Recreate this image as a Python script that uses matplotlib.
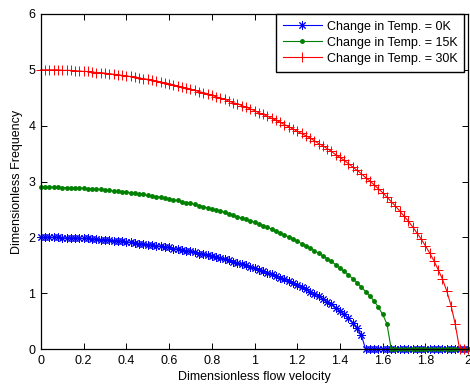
import numpy as np
import matplotlib
matplotlib.use("Agg")
import matplotlib.pyplot as plt

plt.rcParams['font.family'] = ['Liberation Sans', 'DejaVu Sans']

# flow velocity grid (0 to 2, step 0.02)
velocity = np.linspace(0, 2, 101)

# dimensionless frequency for each temperature change
freq_0K = [
    2.00, 2.00, 2.00, 2.00, 2.00, 1.99, 1.99, 1.99, 1.99, 1.98,
    1.98, 1.98, 1.97, 1.97, 1.96, 1.96, 1.95, 1.94, 1.94, 1.93,
    1.92, 1.91, 1.90, 1.89, 1.88, 1.87, 1.86, 1.85, 1.84, 1.83,
    1.82, 1.80, 1.79, 1.78, 1.76, 1.75, 1.73, 1.71, 1.70, 1.68,
    1.66, 1.64, 1.63, 1.61, 1.59, 1.56, 1.54, 1.52, 1.50, 1.47,
    1.45, 1.42, 1.40, 1.37, 1.34, 1.31, 1.28, 1.25, 1.22, 1.18,
    1.15, 1.11, 1.07, 1.03, 0.99, 0.95, 0.90, 0.85, 0.80, 0.74,
    0.68, 0.62, 0.55, 0.47, 0.37, 0.25,
] + [0.0] * 25

freq_15K = [
    2.90, 2.90, 2.90, 2.90, 2.90, 2.89, 2.89, 2.89, 2.89, 2.88,
    2.88, 2.87, 2.87, 2.86, 2.86, 2.85, 2.84, 2.83, 2.83, 2.82,
    2.81, 2.80, 2.79, 2.78, 2.77, 2.75, 2.74, 2.73, 2.72, 2.70,
    2.69, 2.67, 2.66, 2.64, 2.62, 2.61, 2.59, 2.57, 2.55, 2.53,
    2.51, 2.49, 2.47, 2.45, 2.42, 2.40, 2.37, 2.35, 2.32, 2.30,
    2.27, 2.24, 2.21, 2.18, 2.15, 2.11, 2.08, 2.04, 2.01, 1.97,
    1.93, 1.89, 1.85, 1.81, 1.76, 1.72, 1.67, 1.62, 1.57, 1.51,
    1.45, 1.39, 1.33, 1.26, 1.19, 1.11, 1.03, 0.95, 0.86, 0.75,
    0.62, 0.45,
] + [0.0] * 19

freq_30K = [
    5.00, 5.00, 5.00, 5.00, 5.00, 4.99, 4.99, 4.99, 4.98, 4.98,
    4.97, 4.97, 4.96, 4.95, 4.95, 4.94, 4.93, 4.92, 4.91, 4.90,
    4.89, 4.88, 4.87, 4.85, 4.84, 4.83, 4.81, 4.80, 4.78, 4.77,
    4.75, 4.73, 4.71, 4.69, 4.67, 4.65, 4.63, 4.61, 4.59, 4.57,
    4.54, 4.52, 4.49, 4.47, 4.44, 4.41, 4.39, 4.36, 4.33, 4.30,
    4.27, 4.23, 4.20, 4.17, 4.13, 4.10, 4.06, 4.02, 3.98, 3.94,
    3.90, 3.86, 3.82, 3.78, 3.73, 3.68, 3.64, 3.59, 3.54, 3.48,
    3.43, 3.38, 3.32, 3.26, 3.20, 3.14, 3.07, 3.01, 2.94, 2.87,
    2.80, 2.72, 2.64, 2.56, 2.47, 2.38, 2.29, 2.19, 2.08, 1.97,
    1.85, 1.72, 1.58, 1.42, 1.25, 1.04, 0.78, 0.44,
] + [0.0] * 3

labels = ['Change in Temp. = 0K', 'Change in Temp. = 15K', 'Change in Temp. = 30K']

fig = plt.figure(figsize=(4.7, 3.87), dpi=100)
ax = fig.add_axes([0.087, 0.098, 0.909, 0.866])

ax.plot(velocity, freq_0K, color='blue', marker=(8, 2, 0), markersize=6,
        markeredgewidth=0.7, linewidth=0.8, label=labels[0], clip_on=False)
ax.plot(velocity, freq_15K, color=(0, 0.5, 0), marker='.', markersize=5,
        linewidth=0.8, label=labels[1], clip_on=False)
ax.plot(velocity, freq_30K, color='red', marker='+', markersize=7,
        markeredgewidth=0.7, linewidth=0.8, label=labels[2], clip_on=False)

ax.set_xlim(0, 2)
ax.set_ylim(0, 6)
ax.set_xticks(np.arange(0, 2.01, 0.2))
ax.set_xticklabels(['0', '0.2', '0.4', '0.6', '0.8', '1', '1.2', '1.4', '1.6', '1.8', '2'])
ax.set_yticks(range(7))
ax.tick_params(direction='in', length=4, width=0.7, labelsize=9,
               top=True, right=True, pad=4)
for s in ax.spines.values():
    s.set_linewidth(0.9)

ax.set_xlabel('Dimensionless flow velocity', fontsize=9, labelpad=3)
ax.set_ylabel('Dimensionless Frequency', fontsize=9, labelpad=4)

leg = ax.legend(loc='upper right', bbox_to_anchor=(0.991, 1.0), fontsize=9,
                fancybox=False, framealpha=1, edgecolor='black', borderaxespad=0,
                handlelength=3.1, labelspacing=0.32, borderpad=0.55,
                handletextpad=0.4)
leg.get_frame().set_linewidth(1.0)

fig.savefig('out.png', dpi=100)
